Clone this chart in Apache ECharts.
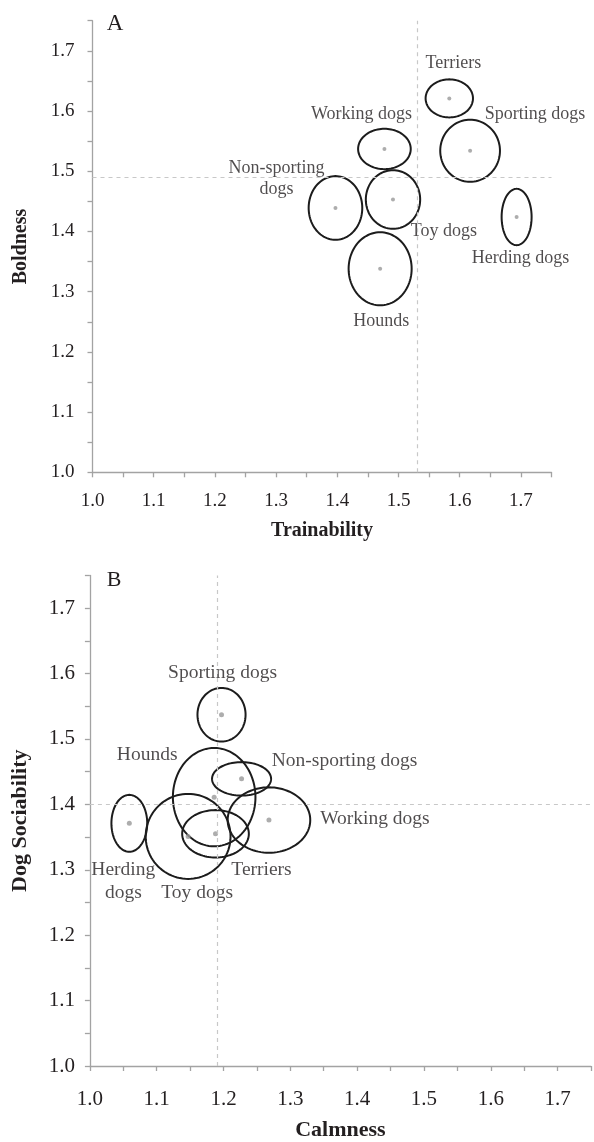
<!DOCTYPE html>
<html>
<head>
<meta charset="utf-8">
<script src="https://cdn.jsdelivr.net/npm/echarts@6/dist/echarts.min.js"></script>
<style>
  html, body { margin: 0; padding: 0; background: #fff; }
  #chart { width: 594px; height: 1142px; }
</style>
</head>
<body>
<div id="chart"></div>
<script>
// breed groups, same order in both panels
const groups = ['Sporting dogs', 'Working dogs', 'Herding dogs', 'Terriers', 'Toy dogs', 'Non-sporting dogs', 'Hounds'];

// panel A: means and ellipse half-widths
const trainability = [1.617, 1.477, 1.693, 1.583, 1.491, 1.397, 1.470];
const boldness = [1.534, 1.537, 1.424, 1.621, 1.453, 1.439, 1.338];
const trainabilitySpread = [0.0488, 0.0430, 0.0245, 0.0387, 0.0444, 0.0438, 0.0515];
const boldnessSpread = [0.0515, 0.0335, 0.0468, 0.0316, 0.0487, 0.0529, 0.0607];
const meanTrainability = 1.534;
const meanBoldness = 1.486;

// panel B
const calmness = [1.197, 1.268, 1.059, 1.188, 1.147, 1.227, 1.186];
const dogSociability = [1.537, 1.376, 1.371, 1.355, 1.351, 1.439, 1.411];
const calmnessSpread = [0.0360, 0.0618, 0.0268, 0.0499, 0.0635, 0.0442, 0.0618];
const sociabilitySpread = [0.0410, 0.0500, 0.0435, 0.0362, 0.0650, 0.0256, 0.0752];
const meanCalmness = 1.185;
const meanSociability = 1.403;

const tickLabels = ['1.0', '1.1', '1.2', '1.3', '1.4', '1.5', '1.6', '1.7'];

// label placement (px from the point) and wrapped text
const labelsA = {
  'Sporting dogs': [65, -36],
  'Working dogs': [-23, -35],
  'Herding dogs': [4, 41],
  'Terriers': [4, -35],
  'Toy dogs': [51, 32],
  'Non-sporting dogs': [-59, -29, 'Non-sporting\ndogs'],
  'Hounds': [1, 52]
};
const labelsB = {
  'Sporting dogs': [1, -42],
  'Working dogs': [106, -1],
  'Herding dogs': [-6, 58, 'Herding\ndogs'],
  'Terriers': [46, 36],
  'Toy dogs': [9, 56],
  'Non-sporting dogs': [103, -18],
  'Hounds': [-67, -42]
};

const FONT = "'Liberation Serif', 'Times New Roman', serif";
const INK = '#231f20';
const AXIS = '#a3a3a3';

function ellipseItem(params, api) {
  const x = api.value(0), y = api.value(1), rx = api.value(2), ry = api.value(3);
  const pts = [];
  for (let i = 0; i < 96; i++) {
    const t = i / 96 * Math.PI * 2;
    pts.push(api.coord([x + rx * Math.cos(t), y + ry * Math.sin(t)]));
  }
  return {
    type: 'polygon',
    shape: { points: pts },
    style: { fill: 'none', stroke: '#1c1c1c', lineWidth: 2 }
  };
}

function tickFmt(v) {
  const s = v.toFixed(2);
  return s.endsWith('0') ? (tickLabels.includes(v.toFixed(1)) ? v.toFixed(1) : '') : '';
}

function axis(idx, name, opt) {
  return {
    type: 'value', gridIndex: idx, min: 1.0, max: 1.75, interval: 0.05,
    name: name, nameLocation: 'middle', nameGap: opt.nameGap,
    nameTextStyle: { fontFamily: FONT, fontWeight: 'bold', fontSize: opt.nameSize, color: INK },
    axisLine: { show: true, onZero: false, lineStyle: { color: AXIS, width: 1.3 } },
    axisTick: { show: true, inside: false, length: 5, lineStyle: { color: AXIS, width: 1.3 } },
    axisLabel: { fontFamily: FONT, fontSize: opt.tickSize, color: INK, margin: opt.margin, formatter: tickFmt },
    splitLine: { show: false }
  };
}

function panel(idx, xs, ys, rxs, rys, mx, my, labels, fontSize, dotSize) {
  const ell = xs.map((x, i) => [x, ys[i], rxs[i], rys[i]]);
  const pts = xs.map((x, i) => {
    const l = labels[groups[i]];
    return { name: groups[i], value: [x, ys[i]], label: { offset: [l[0], l[1]], formatter: l[2] || groups[i] } };
  });
  return [
    {
      type: 'custom', xAxisIndex: idx, yAxisIndex: idx, renderItem: ellipseItem,
      data: ell, encode: { x: 0, y: 1 }, silent: true, z: 3
    },
    {
      type: 'scatter', xAxisIndex: idx, yAxisIndex: idx, data: pts,
      symbol: 'circle', symbolSize: dotSize, z: 4,
      itemStyle: { color: '#999999' },
      label: {
        show: true, position: 'inside', color: INK, fontFamily: FONT, fontSize: fontSize,
        lineHeight: fontSize * 1.15, textBorderWidth: 0
      },
      emphasis: { disabled: true },
      markLine: {
        silent: true, symbol: 'none', animation: false,
        lineStyle: { type: [4, 4], color: '#c8c8c8', width: 1.2 },
        label: { show: false },
        data: [{ xAxis: mx }, { yAxis: my }]
      }
    }
  ];
}

const chart = echarts.init(document.getElementById('chart'), null, { renderer: 'canvas' });
chart.setOption({
  animation: false,
  backgroundColor: '#ffffff',
  grid: [
    { left: 92.5, top: 20.7, width: 459, height: 451.6 },
    { left: 89.9, top: 575.4, width: 503.4, height: 493.9 }
  ],
  xAxis: [
    axis(0, 'Trainability', { nameGap: 49, nameSize: 20, tickSize: 19, margin: 19 }),
    axis(1, 'Calmness', { nameGap: 53, nameSize: 22, tickSize: 21, margin: 23 })
  ],
  yAxis: [
    axis(0, 'Boldness', { nameGap: 62, nameSize: 20, tickSize: 19, margin: 18 }),
    axis(1, 'Dog Sociability', { nameGap: 59, nameSize: 22, tickSize: 21, margin: 15 })
  ],
  graphic: [
    { type: 'text', x: 115, y: 24, style: { text: 'A', font: '23px ' + FONT, fill: INK, align: 'center', verticalAlign: 'middle' } },
    { type: 'text', x: 114, y: 580, style: { text: 'B', font: '22px ' + FONT, fill: INK, align: 'center', verticalAlign: 'middle' } }
  ],
  series: [
    ...panel(0, trainability, boldness, trainabilitySpread, boldnessSpread, meanTrainability, meanBoldness, labelsA, 18, 4),
    ...panel(1, calmness, dogSociability, calmnessSpread, sociabilitySpread, meanCalmness, meanSociability, labelsB, 19.5, 5)
  ]
});
</script>
</body>
</html>
